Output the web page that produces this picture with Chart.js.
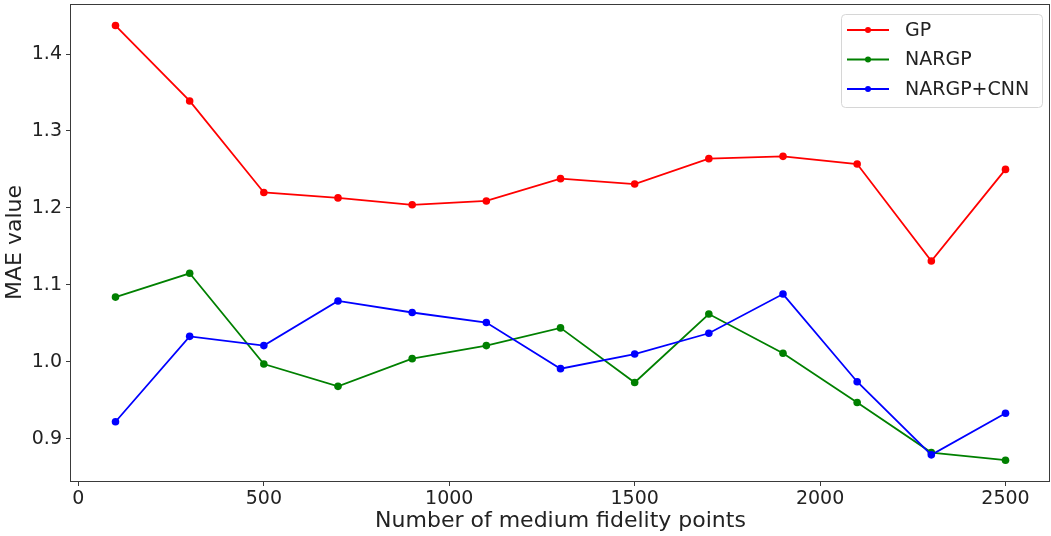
<!DOCTYPE html>
<html>
<head>
<meta charset="utf-8">
<title>MAE vs medium fidelity points</title>
<script src="https://cdn.jsdelivr.net/npm/chart.js@4"></script>
<style>
  html, body { margin: 0; padding: 0; background: #fff; }
  #wrap { width: 1051px; height: 536px; }
</style>
</head>
<body>
<div id="wrap"><canvas id="maeChart" width="1051" height="536"></canvas></div>
<script>
const points = [100, 300, 500, 700, 900, 1100, 1300, 1500, 1700, 1900, 2100, 2300, 2500];
const gpMae =       [1.437, 1.339, 1.220, 1.213, 1.204, 1.209, 1.238, 1.231, 1.264, 1.267, 1.257, 1.131, 1.250];
const nargpMae =    [1.084, 1.115, 0.997, 0.968, 1.004, 1.021, 1.044, 0.973, 1.062, 1.011, 0.947, 0.882, 0.872];
const nargpCnnMae = [0.922, 1.033, 1.021, 1.079, 1.064, 1.051, 0.991, 1.010, 1.037, 1.088, 0.974, 0.879, 0.933];
const xTicks = [0, 500, 1000, 1500, 2000, 2500];
const yTicks = [0.9, 1.0, 1.1, 1.2, 1.3, 1.4];

const FONT = "'DejaVu Sans', sans-serif";
const TEXT = '#222';
const SPINE = '#3a3a3a';

const series = [
  {label: 'GP', values: gpMae, color: '#ff0000', order: 3},
  {label: 'NARGP', values: nargpMae, color: '#008000', order: 2},
  {label: 'NARGP+CNN', values: nargpCnnMae, color: '#0000ff', order: 1}
];

// box around the plot area, like matplotlib spines
const framePlugin = {
  id: 'frame',
  afterDraw(chart) {
    const {ctx, chartArea: a} = chart;
    ctx.save();
    ctx.strokeStyle = SPINE;
    ctx.lineWidth = 1;
    ctx.strokeRect(a.left - 0.5, a.top + 0.5, a.right - a.left, a.bottom - a.top);
    ctx.restore();
  }
};

// legend with line + marker samples in the upper right corner
const legendPlugin = {
  id: 'lineLegend',
  afterDraw(chart) {
    const {ctx} = chart;
    const x = 841, y = 14, w = 201, h = 93;
    ctx.save();
    ctx.beginPath();
    ctx.roundRect(x + 0.5, y + 0.5, w, h, 4);
    ctx.fillStyle = 'rgba(255,255,255,0.8)';
    ctx.fill();
    ctx.strokeStyle = '#d6d6d6';
    ctx.lineWidth = 1;
    ctx.stroke();
    ctx.font = '19px ' + FONT;
    ctx.textBaseline = 'middle';
    series.forEach((s, i) => {
      const cy = 30 + i * 29.5;
      ctx.strokeStyle = s.color;
      ctx.lineWidth = 1.8;
      ctx.beginPath();
      ctx.moveTo(847, cy);
      ctx.lineTo(889, cy);
      ctx.stroke();
      ctx.fillStyle = s.color;
      ctx.beginPath();
      ctx.arc(868, cy, 3, 0, Math.PI * 2);
      ctx.fill();
      ctx.fillStyle = TEXT;
      ctx.fillText(s.label, 905, cy + 1);
    });
    ctx.restore();
  }
};

new Chart(document.getElementById('maeChart'), {
  type: 'line',
  data: {
    datasets: series.map(s => ({
      label: s.label,
      data: points.map((p, i) => ({x: p, y: s.values[i]})),
      borderColor: s.color,
      backgroundColor: s.color,
      borderWidth: 1.8,
      pointRadius: 3.8,
      pointBorderWidth: 0,
      pointBackgroundColor: s.color,
      tension: 0,
      order: s.order
    }))
  },
  options: {
    responsive: false,
    animation: false,
    layout: {autoPadding: false, padding: {top: 4, right: 1, left: 0, bottom: 0}},
    plugins: {
      legend: {display: false},
      tooltip: {enabled: false}
    },
    scales: {
      x: {
        type: 'linear',
        min: -20,
        max: 2620,
        afterBuildTicks: scale => { scale.ticks = xTicks.map(v => ({value: v})); },
        afterFit: scale => {
          scale.height = 55;
          scale.paddingLeft = 0;
          scale.paddingRight = 0;
        },
        grid: {display: true, drawOnChartArea: false, drawTicks: true, tickLength: 5, color: SPINE},
        border: {display: false},
        ticks: {
          font: {family: FONT, size: 19},
          color: TEXT,
          padding: 2,
          maxRotation: 0,
          callback: v => String(v)
        },
        title: {
          display: true,
          text: 'Number of medium fidelity points',
          font: {family: FONT, size: 22},
          color: TEXT,
          padding: {top: 0, bottom: 2}
        }
      },
      y: {
        min: 0.845,
        max: 1.465,
        afterBuildTicks: scale => { scale.ticks = yTicks.map(v => ({value: v})); },
        afterFit: scale => {
          scale.width = 71;
          scale.paddingTop = 0;
          scale.paddingBottom = 0;
        },
        grid: {display: true, drawOnChartArea: false, drawTicks: true, tickLength: 5, color: SPINE},
        border: {display: false},
        ticks: {
          font: {family: FONT, size: 19},
          color: TEXT,
          padding: 4,
          callback: v => v.toFixed(1)
        },
        title: {
          display: true,
          text: 'MAE value',
          font: {family: FONT, size: 22},
          color: TEXT,
          padding: {top: 2, bottom: 0}
        }
      }
    }
  },
  plugins: [framePlugin, legendPlugin]
});
</script>
</body>
</html>
